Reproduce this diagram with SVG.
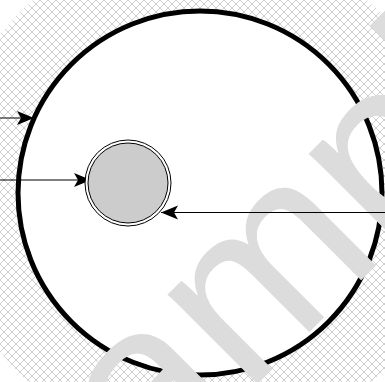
<svg xmlns="http://www.w3.org/2000/svg" width="385" height="382" viewBox="0 0 385 382">
<defs>
<pattern id="hatch" width="8" height="8" patternUnits="userSpaceOnUse">
<path d="M0,0 L8,8 M8,0 L0,8" stroke="#cfcfcf" stroke-width="1" fill="none"/>
</pattern>
<marker id="ah" markerUnits="userSpaceOnUse" markerWidth="20" markerHeight="16" refX="17" refY="7" orient="auto" viewBox="0 0 20 16">
<path d="M0,0 L17,7 L0,14 L4,7 z" fill="#000"/>
</marker>
<style>
.edge{stroke:#000;stroke-width:1;fill:none;marker-end:url(#ah)}
.wm{font-family:"Liberation Sans",Arial,sans-serif;fill:#dcdcdc}
</style>
</defs>
<rect width="385" height="382" fill="#fff"/>
<circle cx="200" cy="193" r="255" fill="url(#hatch)"/>
<g id="outer">
<circle cx="200" cy="193" r="182" fill="#fff" stroke="#000" stroke-width="5"/>
</g>
<text class="wm" font-size="240" transform="translate(273,281) rotate(-45)" x="-394" y="62">Sample</text>
<g id="edges">
<line class="edge" x1="0" y1="118" x2="34" y2="118"/>
<line class="edge" x1="0" y1="180" x2="91" y2="180"/>
<line class="edge" x1="385" y1="212.5" x2="161" y2="212.5"/>
</g>
<g id="inner">
<circle cx="128" cy="183" r="43" fill="#fff" stroke="#000" stroke-width="1"/>
<circle cx="128" cy="183" r="40" fill="#ccc" stroke="#000" stroke-width="1"/>
</g>
</svg>
